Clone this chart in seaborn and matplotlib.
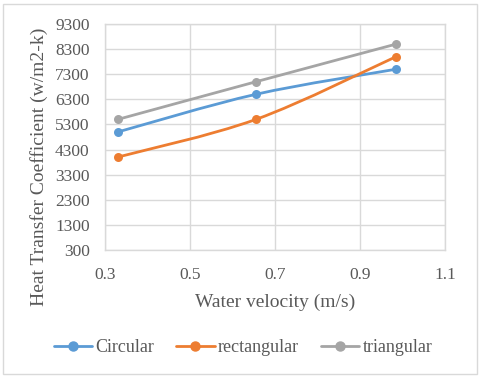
import numpy as np
import pandas as pd
import matplotlib
matplotlib.use("Agg")
import matplotlib.pyplot as plt
import seaborn as sns
from matplotlib.path import Path
from matplotlib.patches import PathPatch, Rectangle
from matplotlib.lines import Line2D

# ---- data ----
velocity = [0.33, 0.655, 0.985]
circular = [5000, 6500, 7500]
rectangular = [4000, 5500, 8000]
triangular = [5500, 7000, 8500]
series_names = ["Circular", "rectangular", "triangular"]
colors = ["#5B9BD5", "#ED7D31", "#A5A5A5"]
x_ticks = [0.3, 0.5, 0.7, 0.9, 1.1]
y_ticks = [300, 1300, 2300, 3300, 4300, 5300, 6300, 7300, 8300, 9300]

df = pd.DataFrame({
    "x": velocity * 3,
    "y": circular + rectangular + triangular,
    "series": sum([[n] * len(velocity) for n in series_names], []),
})

sns.set_theme(style="white")
plt.rcParams["font.family"] = ["Liberation Serif", "DejaVu Serif"]

fig = plt.figure(figsize=(4.8, 3.78), dpi=100)
fig.patches.append(Rectangle((3 / 480, 4 / 378), 474 / 480, 370 / 378,
                             transform=fig.transFigure, fill=False,
                             edgecolor="#D9D9D9", linewidth=1.0))
ax = fig.add_axes([105 / 480, 128 / 378, 340 / 480, 226 / 378])


def smooth_path(xs, ys, t=1 / 6):
    pts = np.column_stack([xs, ys]).astype(float)
    n = len(pts)
    verts = [pts[0]]
    codes = [Path.MOVETO]
    for i in range(n - 1):
        p0 = pts[i - 1] if i > 0 else pts[i]
        p1 = pts[i]
        p2 = pts[i + 1]
        p3 = pts[i + 2] if i + 2 < n else pts[i + 1]
        c1 = p1 + (p2 - p0) * t
        c2 = p2 - (p3 - p1) * t
        verts += [c1, c2, p2]
        codes += [Path.CURVE4] * 3
    return Path(verts, codes)


for name, col in zip(series_names, colors):
    sub = df[df["series"] == name]
    ax.add_patch(PathPatch(smooth_path(sub["x"].values, sub["y"].values),
                           facecolor="none", edgecolor=col, linewidth=2.0,
                           capstyle="round", zorder=3))
    sns.scatterplot(data=sub, x="x", y="y", color=col, s=42, edgecolor=col,
                    linewidth=0, ax=ax, zorder=4, legend=False)

ax.set_xlim(0.3, 1.1)
ax.set_ylim(300, 9300)
ax.set_xticks(x_ticks)
ax.set_yticks(y_ticks)
ax.set_xticklabels([f"{v:.1f}" for v in x_ticks])
ax.set_yticklabels([str(v) for v in y_ticks])
ax.grid(True, color="#D9D9D9", linewidth=1.0)
ax.set_axisbelow(True)
for s in ax.spines.values():
    s.set_color("#D9D9D9")
    s.set_linewidth(1.0)
ax.tick_params(length=0, labelsize=12.5, colors="#595959")
ax.tick_params(axis="y", pad=11)
ax.tick_params(axis="x", pad=12)
ax.set_xlabel("Water velocity (m/s)", fontsize=14, color="#595959", labelpad=8)
ax.set_ylabel("Heat Transfer Coefficient (w/m2-k)", fontsize=14,
              color="#595959")
ax.yaxis.set_label_coords(-0.168, 0.367)

handles = [Line2D([], [], color=c, marker="o", markersize=6.5, linewidth=2.0)
           for c in colors]
fig.legend(handles, series_names, loc="center", bbox_to_anchor=(243 / 480, 30 / 378),
           ncol=3, frameon=False, fontsize=13, handlelength=2.15,
           handletextpad=0.17, columnspacing=1.2, labelcolor="#595959")

fig.savefig("out.png", dpi=100)
